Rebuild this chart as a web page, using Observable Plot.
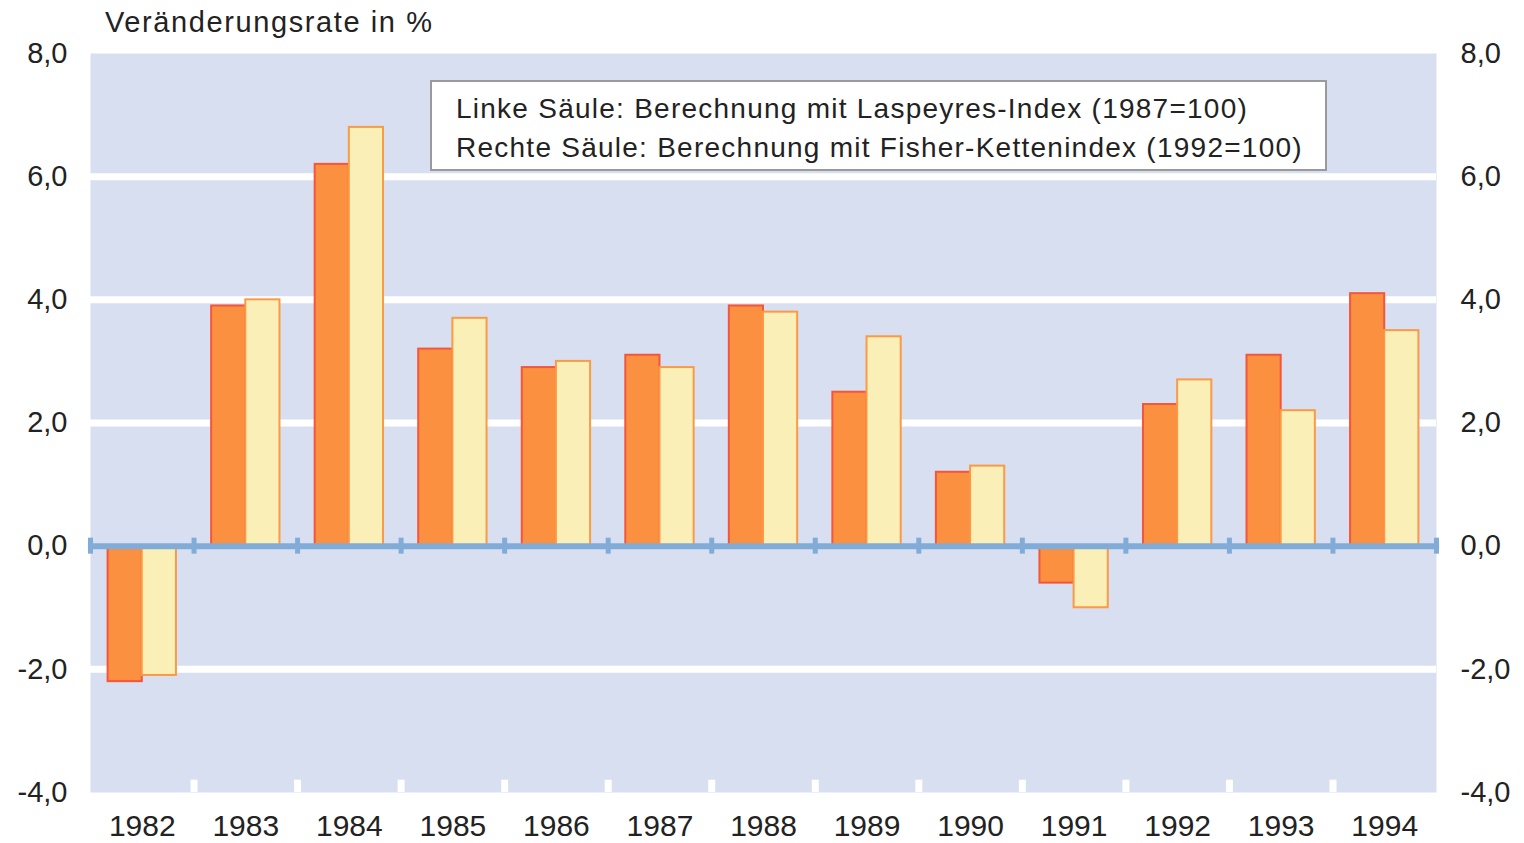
<!DOCTYPE html>
<html>
<head>
<meta charset="utf-8">
<script src="https://cdn.jsdelivr.net/npm/d3@7"></script>
<script src="https://cdn.jsdelivr.net/npm/@observablehq/plot@0.6"></script>
<style>
  html, body { margin: 0; padding: 0; background: #fff; }
  #wrap { position: relative; width: 1524px; height: 843px; font-family: "Liberation Sans", Arial, sans-serif; color: #222; }
  #title { position: absolute; left: 105px; top: 5px; font-size: 29px; letter-spacing: 1.6px; line-height: 34px; white-space: nowrap; }
  #legend { position: absolute; left: 430px; top: 80px; width: 897px; height: 91px; box-sizing: border-box;
            border: 2px solid #9a9a9a; background: #fff; padding: 7px 0 0 24px; font-size: 28px; letter-spacing: 1.25px; line-height: 39px; white-space: nowrap; }
</style>
</head>
<body>
<div id="wrap">
  <div id="chart"></div>
  <div id="title"></div>
  <div id="legend"></div>
</div>
<script>
const years = [1982, 1983, 1984, 1985, 1986, 1987, 1988, 1989, 1990, 1991, 1992, 1993, 1994];
const laspeyres = [-2.2, 3.9, 6.2, 3.2, 2.9, 3.1, 3.9, 2.5, 1.2, -0.6, 2.3, 3.1, 4.1];
const fisher    = [-2.1, 4.0, 6.8, 3.7, 3.0, 2.9, 3.8, 3.4, 1.3, -1.0, 2.7, 2.2, 3.5];
const yTicks = [-4, -2, 0, 2, 4, 6, 8];
const gridLines = [-2, 2, 4, 6];
const titleText = "Veränderungsrate in %";
const legendLines = [
  "Linke Säule: Berechnung mit Laspeyres-Index (1987=100)",
  "Rechte Säule: Berechnung mit Fisher-Kettenindex (1992=100)"
];

const barHalf = 0.33;
const rows = years.map((year, i) => ({year, L: laspeyres[i], R: fisher[i]}));
const boundaries = d3.range(years[0] - 0.5, years[years.length - 1] + 1, 1);
const innerBoundaries = boundaries.slice(1, -1);
const fmt = d => d.toFixed(1).replace(".", ",");
const font = "Liberation Sans, Arial, sans-serif";

const chart = Plot.plot({
  width: 1524,
  height: 843,
  marginLeft: 90,
  marginRight: 88,
  marginTop: 53,
  marginBottom: 51,
  style: {fontFamily: font, color: "#222", background: "transparent"},
  x: {domain: [years[0] - 0.5, years[years.length - 1] + 0.5], axis: null},
  y: {domain: [-4, 8], axis: null},
  marks: [
    Plot.frame({fill: "#d7dff0", stroke: "none"}),
    Plot.ruleY(gridLines, {stroke: "white", strokeWidth: 7}),
    Plot.ruleX(innerBoundaries, {y1: -4, y2: -3.8, stroke: "white", strokeWidth: 7}),
    Plot.rectY(rows, {x1: d => d.year - barHalf, x2: d => d.year, y1: 0, y2: "L",
      fill: "#fb9140", stroke: "#f5553a", strokeWidth: 2}),
    Plot.rectY(rows, {x1: d => d.year, x2: d => d.year + barHalf, y1: 0, y2: "R",
      fill: "#fbefb8", stroke: "#fb9a46", strokeWidth: 2}),
    Plot.ruleY([0], {x1: boundaries[0] - 0.02, x2: boundaries[boundaries.length - 1] + 0.03, stroke: "#82acd8", strokeWidth: 6}),
    Plot.ruleX(boundaries, {y1: -0.13, y2: 0.13, stroke: "#82acd8", strokeWidth: 5}),
    Plot.axisY(yTicks, {anchor: "left", tickSize: 0, tickPadding: 23, tickFormat: fmt, fontSize: 29, fill: "#222"}),
    Plot.axisY(yTicks, {anchor: "right", tickSize: 0, tickPadding: 24, tickFormat: fmt, fontSize: 29, fill: "#222"}),
    Plot.axisX(years, {anchor: "bottom", tickSize: 0, tickPadding: 22, tickFormat: d => String(d), fontSize: 30, fill: "#222", label: null})
  ]
});
document.getElementById("chart").appendChild(chart);
document.getElementById("title").textContent = titleText;
document.getElementById("legend").innerHTML = legendLines.map(t => `<div>${t}</div>`).join("");
</script>
</body>
</html>
